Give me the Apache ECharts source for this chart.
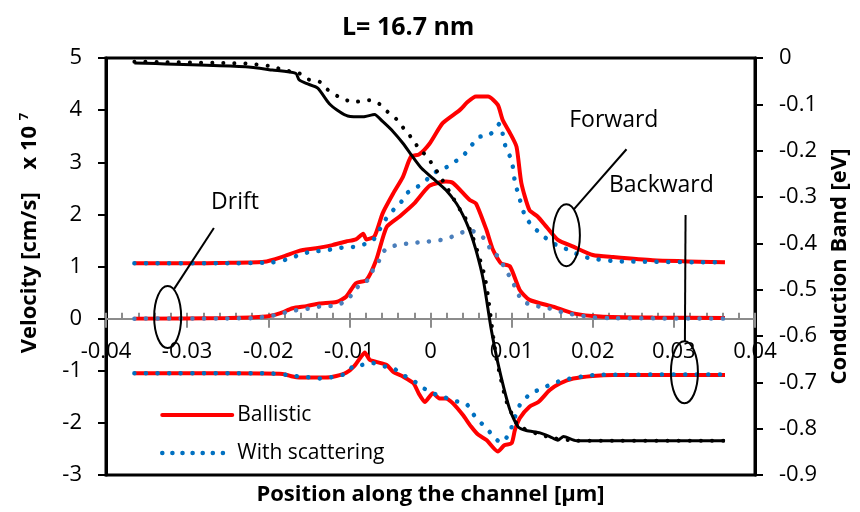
<!DOCTYPE html>
<html>
<head>
<meta charset="utf-8">
<script src="https://cdn.jsdelivr.net/npm/echarts@6/dist/echarts.min.js"></script>
<style>
html,body{margin:0;padding:0;background:#fff;}
#chart{width:860px;height:512px;}
</style>
</head>
<body>
<div id="chart"></div>
<script>
// ---- data (x in µm, velocity in 1e7 cm/s, conduction band in eV) ----
const xTicks = [-0.04, -0.03, -0.02, -0.01, 0, 0.01, 0.02, 0.03, 0.04];
const velocityRange = [-3, 5];
const bandRange = [-0.9, 0];

const ballisticForward = [[-0.0365,1.06],[-0.030,1.06],[-0.025,1.07],[-0.0205,1.09],[-0.0182,1.19],[-0.0162,1.30],[-0.0141,1.35],[-0.0121,1.41],[-0.0104,1.48],[-0.0092,1.52],[-0.0083,1.63],[-0.0079,1.52],[-0.0069,1.58],[-0.0059,2.02],[-0.0046,2.40],[-0.0034,2.72],[-0.0024,3.11],[-0.0014,3.15],[-0.0001,3.36],[0.0015,3.75],[0.0036,4.00],[0.0046,4.16],[0.0056,4.26],[0.0071,4.26],[0.0083,4.10],[0.0089,3.81],[0.0098,3.56],[0.0106,3.30],[0.0112,2.60],[0.0122,2.08],[0.0132,1.96],[0.0143,1.76],[0.0157,1.51],[0.0176,1.38],[0.0200,1.22],[0.0225,1.18],[0.0274,1.12],[0.0363,1.08]];

const ballisticDrift = [[-0.0365,0.0],[-0.025,0.01],[-0.0203,0.04],[-0.0186,0.10],[-0.0170,0.20],[-0.0153,0.24],[-0.0137,0.29],[-0.0116,0.32],[-0.0104,0.42],[-0.0092,0.68],[-0.0079,0.74],[-0.0067,1.12],[-0.0054,1.76],[-0.0038,1.96],[-0.0020,2.21],[-0.0001,2.55],[0.0019,2.63],[0.0028,2.60],[0.0048,2.28],[0.0056,2.21],[0.0069,1.70],[0.0077,1.32],[0.0087,1.06],[0.0098,1.00],[0.0110,0.55],[0.0122,0.36],[0.0151,0.23],[0.0176,0.10],[0.0209,0.04],[0.0274,0.02],[0.0363,0.01]];

const ballisticBackward = [[-0.0365,-1.05],[-0.025,-1.05],[-0.0182,-1.06],[-0.0170,-1.11],[-0.0162,-1.13],[-0.0145,-1.13],[-0.0129,-1.13],[-0.0116,-1.10],[-0.0104,-1.04],[-0.0094,-0.91],[-0.0086,-0.74],[-0.0081,-0.65],[-0.0075,-0.79],[-0.0067,-0.83],[-0.0054,-0.89],[-0.0046,-1.02],[-0.0034,-1.11],[-0.0021,-1.24],[-0.0014,-1.45],[-0.0007,-1.60],[0.0003,-1.43],[0.0011,-1.53],[0.0019,-1.53],[0.0028,-1.63],[0.0040,-1.85],[0.0050,-2.07],[0.0059,-2.23],[0.0069,-2.33],[0.0083,-2.55],[0.0091,-2.43],[0.0100,-2.39],[0.0104,-2.14],[0.0110,-1.91],[0.0122,-1.69],[0.0133,-1.60],[0.0147,-1.37],[0.0160,-1.24],[0.0176,-1.15],[0.0200,-1.10],[0.0225,-1.08],[0.0363,-1.08]];

const scatterForward = [[-0.0365,1.06],[-0.025,1.06],[-0.0195,1.08],[-0.0176,1.14],[-0.0162,1.22],[-0.0149,1.28],[-0.0135,1.30],[-0.0121,1.33],[-0.0106,1.37],[-0.0092,1.38],[-0.0081,1.43],[-0.0071,1.50],[-0.0063,1.70],[-0.0056,1.89],[-0.0046,2.08],[-0.0036,2.24],[-0.0028,2.42],[-0.0016,2.53],[-0.0005,2.66],[0.0003,2.79],[0.0017,2.88],[0.0030,3.01],[0.0040,3.12],[0.0050,3.31],[0.0059,3.48],[0.0072,3.52],[0.0079,3.62],[0.0085,3.74],[0.0093,3.27],[0.0100,3.04],[0.0104,2.63],[0.0108,2.40],[0.0116,1.99],[0.0124,1.80],[0.0135,1.64],[0.0145,1.51],[0.0160,1.37],[0.0171,1.32],[0.0183,1.22],[0.0196,1.16],[0.0230,1.10],[0.0363,1.08]];

const scatterDrift = [[-0.0365,0.0],[-0.022,0.01],[-0.0190,0.07],[-0.0176,0.13],[-0.0162,0.17],[-0.0147,0.20],[-0.0133,0.24],[-0.0118,0.24],[-0.0105,0.34],[-0.0095,0.49],[-0.0086,0.68],[-0.0077,0.74],[-0.0071,0.93],[-0.0063,1.12],[-0.0056,1.32],[-0.0042,1.41],[-0.0028,1.44],[-0.0016,1.46],[-0.0003,1.48],[0.0009,1.50],[0.0021,1.54],[0.0034,1.62],[0.0048,1.70],[0.0056,1.65],[0.0069,1.50],[0.0075,1.28],[0.0083,1.20],[0.0093,0.93],[0.0100,0.74],[0.0106,0.55],[0.0112,0.36],[0.0124,0.26],[0.0139,0.22],[0.0153,0.17],[0.0167,0.10],[0.0182,0.07],[0.0196,0.03],[0.0220,0.01],[0.0363,0.0]];

const scatterBackward = [[-0.0365,-1.05],[-0.020,-1.05],[-0.0176,-1.08],[-0.0162,-1.11],[-0.0147,-1.13],[-0.0133,-1.15],[-0.0118,-1.11],[-0.0105,-1.06],[-0.0095,-0.91],[-0.0085,-0.89],[-0.0072,-0.85],[-0.0059,-0.91],[-0.0046,-0.95],[-0.0034,-1.08],[-0.0021,-1.19],[-0.0009,-1.33],[0.0003,-1.43],[0.0017,-1.51],[0.0030,-1.58],[0.0044,-1.63],[0.0052,-1.82],[0.0061,-1.98],[0.0071,-2.14],[0.0080,-2.30],[0.0087,-2.38],[0.0097,-2.21],[0.0102,-1.98],[0.0110,-1.66],[0.0124,-1.43],[0.0138,-1.34],[0.0151,-1.24],[0.0164,-1.18],[0.0178,-1.13],[0.0192,-1.10],[0.0205,-1.08],[0.0363,-1.07]];

const bandBallistic = [[-0.0365,-0.011],[-0.0228,-0.019],[-0.0195,-0.026],[-0.0166,-0.033],[-0.0162,-0.047],[-0.0153,-0.055],[-0.0139,-0.065],[-0.0125,-0.098],[-0.0112,-0.116],[-0.0102,-0.125],[-0.0083,-0.127],[-0.0069,-0.122],[-0.0059,-0.137],[-0.0046,-0.159],[-0.0034,-0.184],[-0.0022,-0.213],[-0.0011,-0.238],[0.0003,-0.260],[0.0019,-0.285],[0.0032,-0.314],[0.0040,-0.339],[0.0048,-0.371],[0.0056,-0.414],[0.0065,-0.478],[0.0075,-0.587],[0.0085,-0.673],[0.0098,-0.760],[0.0108,-0.796],[0.0118,-0.804],[0.0135,-0.809],[0.0147,-0.817],[0.0157,-0.825],[0.0164,-0.817],[0.0180,-0.826],[0.0363,-0.826]];

const bandScattering = [[-0.0365,-0.008],[-0.0228,-0.012],[-0.0200,-0.017],[-0.0178,-0.027],[-0.0162,-0.033],[-0.0151,-0.046],[-0.0137,-0.051],[-0.0127,-0.068],[-0.0114,-0.083],[-0.0102,-0.092],[-0.0090,-0.094],[-0.0076,-0.091],[-0.0064,-0.098],[-0.0053,-0.116],[-0.0042,-0.132],[-0.0033,-0.152],[-0.0024,-0.171],[-0.0016,-0.191],[-0.0005,-0.212],[0.0003,-0.231],[0.0011,-0.253],[0.0026,-0.296],[0.0034,-0.321],[0.0042,-0.342],[0.0052,-0.386],[0.0060,-0.429],[0.0067,-0.472],[0.0071,-0.515],[0.0075,-0.570],[0.0081,-0.645],[0.0087,-0.695],[0.0093,-0.738],[0.0100,-0.767],[0.0106,-0.788],[0.0114,-0.799],[0.0130,-0.810],[0.0150,-0.820],[0.0180,-0.826],[0.0363,-0.826]];

// annotation anchors in data coordinates (x, velocity)
const annotationLabels = [['Drift', -0.0241, 2.22], ['Forward', 0.0226, 3.81], ['Backward', 0.02846, 2.56]];
const annotationEllipses = [[-0.0324, 0.03], [0.01675, 1.6], [0.0313, -1.03]];
const annotationLeaders = [[[-0.0316, 0.57], [-0.0267, 1.74]], [[0.01769, 2.10], [0.02416, 3.25]], [[0.03144, 1.99], [0.03136, -0.44]]];

// ---- chart ----
const FONT = '"Open Sans", "Liberation Sans", sans-serif';
const chart = echarts.init(document.getElementById('chart'), null, {renderer: 'canvas'});

const GRID = {left: 106, right: 105, top: 58, bottom: 37};
const gridHeight = 512 - GRID.top - GRID.bottom;
// the x axis crosses the velocity axis at zero
const xAxisOffset = -gridHeight * (0 - velocityRange[0]) / (velocityRange[1] - velocityRange[0]);

const red = '#FF0000', blue = '#0070C0', blueMuted = '#4A7EBB';
function velLine(name, data, color, dotted) {
  return {
    name: name, type: 'line', data: data, xAxisIndex: 0, yAxisIndex: 0,
    symbol: 'none', smooth: 0.2, z: dotted ? 4 : 3,
    itemStyle: {color: color},
    lineStyle: dotted ? {color: color, width: 4.5, type: [0.1, 11.5], cap: 'round'}
                      : {color: color, width: 4},
    emphasis: {disabled: true}
  };
}
const hiddenSymbol = {color: 'rgba(0,0,0,0)', borderColor: 'rgba(0,0,0,0)', borderWidth: 0, opacity: 0};

const option = {
  animation: false,
  textStyle: {fontFamily: FONT, color: '#000'},
  title: {
    text: 'L= 16.7 nm', left: 337, top: 10,
    textStyle: {fontFamily: FONT, fontSize: 25, fontWeight: 'bold', color: '#000'}
  },
  grid: Object.assign({show: true, borderColor: '#000', borderWidth: 3,
    backgroundColor: 'transparent', containLabel: false, outerBoundsMode: 'none'}, GRID),
  legend: {
    data: [
      {name: 'Ballistic', itemStyle: hiddenSymbol, lineStyle: {color: red, width: 4, type: 'solid', cap: 'round'}},
      {name: 'With scattering', itemStyle: hiddenSymbol, lineStyle: {color: blue, width: 4.5, type: [0.1, 10], cap: 'round'}}
    ],
    orient: 'vertical', left: 155, top: 398, itemWidth: 70, itemHeight: 14, itemGap: 14,
    textStyle: {fontFamily: FONT, fontSize: 21, color: '#000', lineHeight: 24},
    selectedMode: false
  },
  xAxis: [
    {
      type: 'value', min: xTicks[0], max: xTicks[xTicks.length - 1], interval: 0.01,
      position: 'bottom', offset: xAxisOffset,
      axisLine: {show: true, onZero: false, lineStyle: {color: '#8C8C8C', width: 2}},
      axisTick: {show: true, inside: true, length: 6, lineStyle: {color: '#8C8C8C', width: 2}},
      minorTick: {show: true, splitNumber: 5, length: 6, lineStyle: {color: '#8C8C8C', width: 2}},
      splitLine: {show: false},
      axisLabel: {fontFamily: FONT, fontSize: 22, color: '#000', margin: 22, showMinLabel: true, showMaxLabel: true,
        formatter: v => String(Math.round(v * 100) / 100)},
      name: 'Position along the channel [µm]', nameLocation: 'middle', nameGap: 164,
      nameTextStyle: {fontFamily: FONT, fontSize: 22, fontWeight: 'bold', color: '#000', lineHeight: 24}
    },
    {
      type: 'value', min: xTicks[0], max: xTicks[xTicks.length - 1], interval: 0.01,
      position: 'bottom', offset: xAxisOffset,
      axisLine: {show: false, onZero: false},
      axisTick: {show: true, inside: false, length: 9, lineStyle: {color: '#8C8C8C', width: 2}},
      splitLine: {show: false},
      axisLabel: {show: false}
    }
  ],
  yAxis: [
    {
      type: 'value', min: velocityRange[0], max: velocityRange[1], interval: 1, position: 'left',
      axisLine: {show: true, onZero: false, lineStyle: {color: '#000', width: 3}},
      axisTick: {show: true, inside: false, length: 8, lineStyle: {color: '#000', width: 2}},
      splitLine: {show: false},
      axisLabel: {fontFamily: FONT, fontSize: 22, color: '#000', margin: 24},
      name: 'Velocity [cm/s]    x 10 {sup|7}', nameLocation: 'middle', nameGap: 64, nameRotate: 90,
      nameTextStyle: {fontFamily: FONT, fontSize: 22, fontWeight: 'bold', color: '#000', lineHeight: 24,
        padding: [0, 0, 0, 67],
        rich: {sup: {fontFamily: FONT, fontSize: 13, fontWeight: 'bold', color: '#000', verticalAlign: 'top', lineHeight: 24, padding: [0, 0, 10, 0]}}}
    },
    {
      type: 'value', min: bandRange[0], max: bandRange[1], interval: 0.1, position: 'right',
      axisLine: {show: true, onZero: false, lineStyle: {color: '#000', width: 3}},
      axisTick: {show: true, inside: false, length: 8, lineStyle: {color: '#000', width: 2}},
      splitLine: {show: false},
      axisLabel: {fontFamily: FONT, fontSize: 22, color: '#000', margin: 24,
        formatter: v => String(Math.round(v * 10) / 10)},
      name: 'Conduction Band [eV]', nameLocation: 'middle', nameGap: 73, nameRotate: 90,
      nameTextStyle: {fontFamily: FONT, fontSize: 22, fontWeight: 'bold', color: '#000', lineHeight: 24}
    }
  ],
  series: [
    velLine('Ballistic', ballisticForward, red, false),
    velLine('Ballistic', ballisticDrift, red, false),
    velLine('Ballistic', ballisticBackward, red, false),
    velLine('With scattering', scatterForward, blue, true),
    velLine('With scattering', scatterDrift, blueMuted, true),
    velLine('With scattering', scatterBackward, blue, true),
    {
      name: 'Conduction band (ballistic)', type: 'line', data: bandBallistic, xAxisIndex: 0, yAxisIndex: 1,
      symbol: 'none', smooth: 0.2, z: 5, itemStyle: {color: '#000'},
      lineStyle: {color: '#000', width: 3}, emphasis: {disabled: true}
    },
    {
      name: 'Conduction band (with scattering)', type: 'line', data: bandScattering, xAxisIndex: 0, yAxisIndex: 1,
      symbol: 'none', smooth: 0.2, z: 5, itemStyle: {color: '#000'},
      lineStyle: {color: '#000', width: 4, type: [0.1, 11], cap: 'round'}, emphasis: {disabled: true}
    }
  ]
};
chart.setOption(option);

// annotations placed through the chart's own coordinate conversion
const toPx = p => chart.convertToPixel({xAxisIndex: 0, yAxisIndex: 0}, p);
const graphics = [];
annotationLabels.forEach(([txt, x, y]) => {
  const p = toPx([x, y]);
  graphics.push({type: 'text', x: p[0], y: p[1], z: 10,
    style: {text: txt, font: '23px ' + FONT, fill: '#000', textAlign: 'center', textVerticalAlign: 'middle'}});
});
annotationEllipses.forEach(([x, y]) => {
  const p = toPx([x, y]);
  graphics.push({type: 'ellipse', z: 10, shape: {cx: p[0], cy: p[1], rx: 13.5, ry: 31},
    style: {fill: 'none', stroke: '#000', lineWidth: 2}});
});
annotationLeaders.forEach(([a, b]) => {
  const p1 = toPx(a), p2 = toPx(b);
  graphics.push({type: 'line', z: 10, shape: {x1: p1[0], y1: p1[1], x2: p2[0], y2: p2[1]},
    style: {stroke: '#000', lineWidth: 2}});
});
chart.setOption({graphic: graphics});
</script>
</body>
</html>
